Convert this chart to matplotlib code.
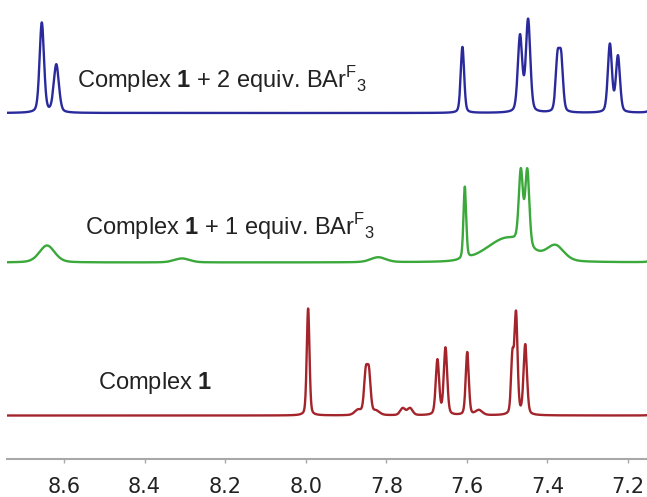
import numpy as np
import matplotlib
matplotlib.use('Agg')
import matplotlib.pyplot as plt

plt.rcParams['mathtext.fontset'] = 'custom'
plt.rcParams['mathtext.rm'] = 'Liberation Sans'
plt.rcParams['mathtext.bf'] = 'Liberation Sans:bold'

# peak lists: position (ppm), height (px), width (ppm)
blue_pos = [8.655, 8.619, 7.611, 7.468, 7.448, 7.375, 7.366, 7.245, 7.225, 7.13]
blue_h = [90, 48, 66, 76, 92, 52, 52, 68, 56, 20]
blue_w = [0.013, 0.015, 0.010, 0.013, 0.013, 0.011, 0.011, 0.012, 0.012, 0.02]

green_pos = [8.642, 8.307, 7.82, 7.605, 7.50, 7.466, 7.450, 7.38, 7.13]
green_h = [17, 4, 5, 72, 24, 72, 76, 15, 10]
green_w = [0.045, 0.045, 0.045, 0.008, 0.12, 0.012, 0.012, 0.05, 0.02]

red_pos = [7.994, 7.851, 7.843, 7.87, 7.825, 7.759, 7.741, 7.673, 7.653,
           7.599, 7.57, 7.487, 7.478, 7.455, 7.13]
red_h = [107, 40, 40, 5, 4, 7, 7, 55, 67, 63, 5, 55, 100, 70, 4]
red_w = [0.008, 0.010, 0.010, 0.02, 0.02, 0.015, 0.015, 0.010, 0.010,
         0.009, 0.02, 0.008, 0.009, 0.010, 0.02]

ticks = [8.6, 8.4, 8.2, 8.0, 7.8, 7.6, 7.4, 7.2]
labels = ['Complex $\\mathbf{1}$ + 2 equiv. BAr$^{\\mathregular{F}}$$_{\\mathregular{3}}$',
          'Complex $\\mathbf{1}$ + 1 equiv. BAr$^{\\mathregular{F}}$$_{\\mathregular{3}}$',
          'Complex $\\mathbf{1}$']


def spectrum(x, pos, h, w, eta=0.3):
    y = np.zeros_like(x)
    for p, a, fw in zip(pos, h, w):
        d = (x - p) / (fw / 2)
        y += a * (eta / (1 + d ** 2) + (1 - eta) * np.exp(-np.log(2) * d ** 2))
    return y


x = np.linspace(7.15, 8.75, 6000)

fig = plt.figure(figsize=(6.47, 4.97), dpi=100)
ax = fig.add_axes([7 / 647, 38 / 497, 640 / 647, 459 / 497])

ax.plot(x, 346 + spectrum(x, blue_pos, blue_h, blue_w), color='#2a2a9c', lw=1.7)
ax.plot(x, 196.5 + spectrum(x, green_pos, green_h, green_w), color='#3aa83a', lw=1.7)
ax.plot(x, 43.5 + spectrum(x, red_pos, red_h, red_w), color='#a3252b', lw=1.7)

ax.set_xlim(8.7414, 7.1529)
ax.set_ylim(0, 459)
ax.set_xticks(ticks)
ax.set_xticklabels([f'{t:.1f}' for t in ticks])
ax.set_yticks([])
for s in ['top', 'right', 'left']:
    ax.spines[s].set_visible(False)
ax.spines['bottom'].set_color('#a8a8a8')
ax.spines['bottom'].set_linewidth(1.5)
ax.tick_params(axis='x', colors='#a8a8a8', length=3, width=1, pad=10,
               labelsize=15, labelcolor='#222222')

fig.text(77 / 647, 1 - 80 / 497, labels[0], fontsize=17, va='center',
         family='Liberation Sans', color='#222222')
fig.text(85 / 647, 1 - 227 / 497, labels[1], fontsize=17, va='center',
         family='Liberation Sans', color='#222222')
fig.text(98 / 647, 1 - 383 / 497, labels[2], fontsize=17, va='center',
         family='Liberation Sans', color='#222222')

fig.savefig('out.png', dpi=100)
